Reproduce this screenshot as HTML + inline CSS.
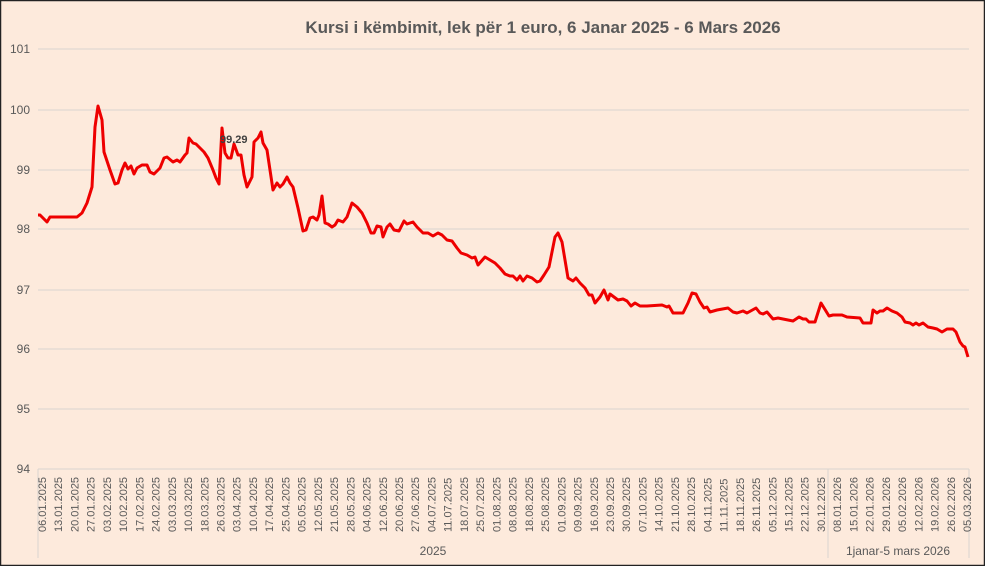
<!DOCTYPE html><html><head><meta charset="utf-8"><style>body{margin:0;background:#fdebdd}svg{display:block}</style></head><body>
<svg width="985" height="566" viewBox="0 0 985 566" font-family="Liberation Sans, sans-serif">
<rect x="0.5" y="0.5" width="984" height="565" fill="#fdeadc" stroke="#222" stroke-width="1.5"/>
<text x="543" y="33" text-anchor="middle" font-size="17" font-weight="bold" fill="#595959">Kursi i këmbimit, lek për 1 euro, 6 Janar 2025 - 6 Mars 2026</text>
<g stroke="#d9d4cf" stroke-width="1">
<line x1="38" x2="969" y1="49" y2="49"/><line x1="38" x2="969" y1="110" y2="110"/><line x1="38" x2="969" y1="170" y2="170"/><line x1="38" x2="969" y1="229" y2="229"/><line x1="38" x2="969" y1="290" y2="290"/><line x1="38" x2="969" y1="349" y2="349"/><line x1="38" x2="969" y1="409" y2="409"/><line x1="38" x2="969" y1="469" y2="469"/>
<line x1="38" x2="38" y1="469" y2="558"/><line x1="828" x2="828" y1="469" y2="558"/><line x1="969" x2="969" y1="469" y2="558"/>
</g>
<g font-size="12" fill="#595959" text-anchor="end">
<text x="30" y="53">101</text><text x="30" y="114">100</text><text x="30" y="174">99</text><text x="30" y="233">98</text><text x="30" y="294">97</text><text x="30" y="353">96</text><text x="30" y="413">95</text><text x="30" y="473">94</text>
</g>
<g font-size="11" fill="#595959">
<text transform="translate(46.0,532) rotate(-90)">06.01.2025</text>
<text transform="translate(62.2,532) rotate(-90)">13.01.2025</text>
<text transform="translate(78.5,532) rotate(-90)">20.01.2025</text>
<text transform="translate(94.7,532) rotate(-90)">27.01.2025</text>
<text transform="translate(110.9,532) rotate(-90)">03.02.2025</text>
<text transform="translate(127.1,532) rotate(-90)">10.02.2025</text>
<text transform="translate(143.4,532) rotate(-90)">17.02.2025</text>
<text transform="translate(159.6,532) rotate(-90)">24.02.2025</text>
<text transform="translate(175.8,532) rotate(-90)">03.03.2025</text>
<text transform="translate(192.1,532) rotate(-90)">10.03.2025</text>
<text transform="translate(208.3,532) rotate(-90)">18.03.2025</text>
<text transform="translate(224.5,532) rotate(-90)">26.03.2025</text>
<text transform="translate(240.7,532) rotate(-90)">03.04.2025</text>
<text transform="translate(257.0,532) rotate(-90)">10.04.2025</text>
<text transform="translate(273.2,532) rotate(-90)">17.04.2025</text>
<text transform="translate(289.4,532) rotate(-90)">25.04.2025</text>
<text transform="translate(305.6,532) rotate(-90)">05.05.2025</text>
<text transform="translate(321.9,532) rotate(-90)">12.05.2025</text>
<text transform="translate(338.1,532) rotate(-90)">21.05.2025</text>
<text transform="translate(354.3,532) rotate(-90)">28.05.2025</text>
<text transform="translate(370.6,532) rotate(-90)">04.06.2025</text>
<text transform="translate(386.8,532) rotate(-90)">12.06.2025</text>
<text transform="translate(403.0,532) rotate(-90)">20.06.2025</text>
<text transform="translate(419.2,532) rotate(-90)">27.06.2025</text>
<text transform="translate(435.5,532) rotate(-90)">04.07.2025</text>
<text transform="translate(451.7,532) rotate(-90)">11.07.2025</text>
<text transform="translate(467.9,532) rotate(-90)">18.07.2025</text>
<text transform="translate(484.2,532) rotate(-90)">25.07.2025</text>
<text transform="translate(500.4,532) rotate(-90)">01.08.2025</text>
<text transform="translate(516.6,532) rotate(-90)">08.08.2025</text>
<text transform="translate(532.8,532) rotate(-90)">18.08.2025</text>
<text transform="translate(549.1,532) rotate(-90)">25.08.2025</text>
<text transform="translate(565.3,532) rotate(-90)">01.09.2025</text>
<text transform="translate(581.5,532) rotate(-90)">09.09.2025</text>
<text transform="translate(597.8,532) rotate(-90)">16.09.2025</text>
<text transform="translate(614.0,532) rotate(-90)">23.09.2025</text>
<text transform="translate(630.2,532) rotate(-90)">30.09.2025</text>
<text transform="translate(646.4,532) rotate(-90)">07.10.2025</text>
<text transform="translate(662.7,532) rotate(-90)">14.10.2025</text>
<text transform="translate(678.9,532) rotate(-90)">21.10.2025</text>
<text transform="translate(695.1,532) rotate(-90)">28.10.2025</text>
<text transform="translate(711.4,532) rotate(-90)">04.11.2025</text>
<text transform="translate(727.6,532) rotate(-90)">11.11.2025</text>
<text transform="translate(743.8,532) rotate(-90)">18.11.2025</text>
<text transform="translate(760.0,532) rotate(-90)">26.11.2025</text>
<text transform="translate(776.3,532) rotate(-90)">05.12.2025</text>
<text transform="translate(792.5,532) rotate(-90)">15.12.2025</text>
<text transform="translate(808.7,532) rotate(-90)">22.12.2025</text>
<text transform="translate(824.9,532) rotate(-90)">30.12.2025</text>
<text transform="translate(841.2,532) rotate(-90)">08.01.2026</text>
<text transform="translate(857.4,532) rotate(-90)">15.01.2026</text>
<text transform="translate(873.6,532) rotate(-90)">22.01.2026</text>
<text transform="translate(889.9,532) rotate(-90)">29.01.2026</text>
<text transform="translate(906.1,532) rotate(-90)">05.02.2026</text>
<text transform="translate(922.3,532) rotate(-90)">12.02.2026</text>
<text transform="translate(938.5,532) rotate(-90)">19.02.2026</text>
<text transform="translate(954.8,532) rotate(-90)">26.02.2026</text>
<text transform="translate(971.0,532) rotate(-90)">05.03.2026</text>
</g>
<text x="433" y="555" text-anchor="middle" font-size="12" fill="#595959">2025</text>
<text x="898" y="555" text-anchor="middle" font-size="12" fill="#595959">1janar-5 mars 2026</text>
<polyline fill="none" stroke="#ee0000" stroke-width="3" stroke-linejoin="round" points="38,215 40,215 47,222 50,217 77,217 82,213 87,203 92,187 95,127 98,106 102,120 104,152 110,170 115,184 118,183 122,170 125,163 128,169 131,166 134,174 137,168 142,165 147,165 150,172 154,174 160,168 164,158 167,157 173,162 177,160 180,162 185,155 187,153 189,138 193,143 196,144 200,148 204,152 208,158 213,170 216,178 219,184 222,128 225,153 228,158 231,158 234,144 238,155 241,155 244,175 247,187 252,177 254,142 258,138 261,132 263,143 267,150 273,190 277,183 280,187 283,184 287,177 290,183 293,187 298,208 303,231 306,230 310,218 313,217 317,220 319,215 322,196 325,223 328,224 332,227 335,225 338,220 343,222 347,217 352,203 357,207 362,213 367,223 371,233 374,233 377,226 381,227 383,237 387,227 390,224 394,230 399,231 404,221 407,224 413,222 417,227 423,233 428,233 433,236 438,233 442,235 447,240 452,241 457,248 461,253 467,255 472,258 475,257 478,265 485,257 490,260 495,263 500,268 505,274 510,276 513,276 517,280 520,276 523,281 527,276 532,278 537,282 540,281 544,275 549,267 555,237 558,233 562,242 568,278 573,281 576,278 580,283 585,288 589,295 592,295 595,303 600,297 604,290 608,300 610,294 614,297 618,300 623,299 627,301 631,306 635,303 640,306 647,306 662,305 667,307 669,306 673,313 683,313 688,303 692,293 696,294 700,302 704,308 707,307 710,312 717,310 728,308 733,312 737,313 743,311 747,313 756,308 760,313 763,314 767,312 773,319 778,318 793,321 799,317 803,319 806,319 809,322 815,322 821,303 829,316 833,315 842,315 847,317 860,318 863,323 871,323 873,310 877,313 880,311 883,311 887,308 892,311 897,313 902,317 905,322 910,323 913,325 916,323 919,325 923,323 928,327 933,328 937,329 942,332 947,329 953,329 956,332 960,342 963,346 965,347 968,357"/>
<text x="220" y="143" font-size="11" font-weight="bold" fill="#404040">99.29</text>
</svg></body></html>
